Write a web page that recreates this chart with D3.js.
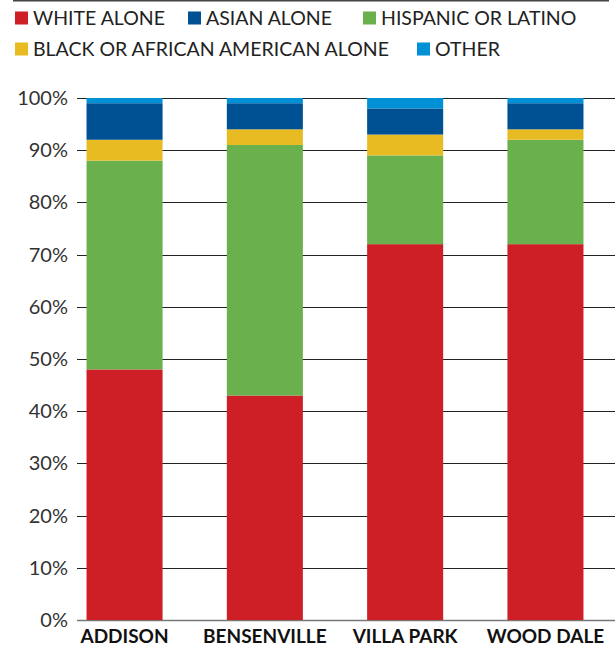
<!DOCTYPE html>
<html><head><meta charset="utf-8">
<script src="https://cdn.jsdelivr.net/npm/d3@7"></script>
<style>body{margin:0;background:#fff;}svg{display:block;font-family:Lato,"Open Sans",sans-serif;}</style>
</head><body>
<svg id="c" width="615" height="647"></svg>
<script>
const categories = ["ADDISON","BENSENVILLE","VILLA PARK","WOOD DALE"];
const seriesNames = ["WHITE ALONE","HISPANIC OR LATINO","BLACK OR AFRICAN AMERICAN ALONE","ASIAN ALONE","OTHER"];
const whiteAlone = [48,43,72,72];
const hispanic = [40,48,17,20];
const black = [4,3,4,2];
const asian = [7,5,5,5];
const other = [1,1,2,1];
const yTicks = [0,10,20,30,40,50,60,70,80,90,100];
const colors = {"WHITE ALONE":"#CE1F26","ASIAN ALONE":"#005193","HISPANIC OR LATINO":"#6AB04C","BLACK OR AFRICAN AMERICAN ALONE":"#E8BB22","OTHER":"#0090D6"};
const legendRows = [["WHITE ALONE","ASIAN ALONE","HISPANIC OR LATINO"],["BLACK OR AFRICAN AMERICAN ALONE","OTHER"]];

const rows = categories.map((c,i)=>({cat:c,"WHITE ALONE":whiteAlone[i],"HISPANIC OR LATINO":hispanic[i],"BLACK OR AFRICAN AMERICAN ALONE":black[i],"ASIAN ALONE":asian[i],"OTHER":other[i]}));
const svg = d3.select("#c");

const x = d3.scaleBand().domain(categories).range([54.4,615.6]).paddingInner(0.458).paddingOuter(0.229);
const y = d3.scaleLinear().domain([0,100]).range([620,98]);

// top rule
svg.append("line").attr("x1",13).attr("x2",609).attr("y1",0.75).attr("y2",0.75).attr("stroke","#444").attr("stroke-width",1.5);

// legend
const lg = svg.append("g");
const legX = [[15,188,363],[15,417]];
const legY = [18.5,49.5];
legendRows.forEach((r,ri)=>r.forEach((name,ci)=>{
  const g = lg.append("g").attr("transform",`translate(${legX[ri][ci]},${legY[ri]})`);
  g.append("rect").attr("x",0).attr("y",-7).attr("width",13).attr("height",13).attr("fill",colors[name]);
  g.append("text").attr("x",18).attr("y",0).attr("dy","0.35em").attr("font-size",19.5).attr("fill","#222").attr("font-weight",400).text(name);
}));

// grid + y labels
const yAxis = d3.axisLeft(y).tickValues(yTicks).tickFormat(d=>d+"%").tickSize(0).tickPadding(9);
const gy = svg.append("g").attr("transform","translate(77,0)").call(yAxis);
gy.select(".domain").remove();
gy.selectAll("text").attr("font-size",20).attr("fill","#333").attr("font-family","Lato,'Open Sans',sans-serif");
svg.append("g").selectAll("line").data(yTicks).join("line")
  .attr("x1",77).attr("x2",615).attr("y1",d=>Math.round(y(d))+0.5).attr("y2",d=>Math.round(y(d))+0.5)
  .attr("stroke",d=>d===0?"#777":"#222").attr("stroke-width",d=>d===0?1.5:1);

// bars
const stack = d3.stack().keys(seriesNames)(rows);
svg.append("g").selectAll("g").data(stack).join("g").attr("fill",d=>colors[d.key])
  .selectAll("rect").data(d=>d).join("rect")
  .attr("x",d=>x(d.data.cat)).attr("width",x.bandwidth())
  .attr("y",d=>y(d[1])).attr("height",d=>y(d[0])-y(d[1]));

// x labels
const xAxis = d3.axisBottom(x).tickSize(0).tickPadding(9);
const gx = svg.append("g").attr("transform","translate(0,621)").call(xAxis);
gx.select(".domain").remove();
gx.selectAll("text").attr("font-size",19).attr("font-weight",700).attr("fill","#111").attr("font-family","Lato,'Open Sans',sans-serif");
</script>
</body></html>
